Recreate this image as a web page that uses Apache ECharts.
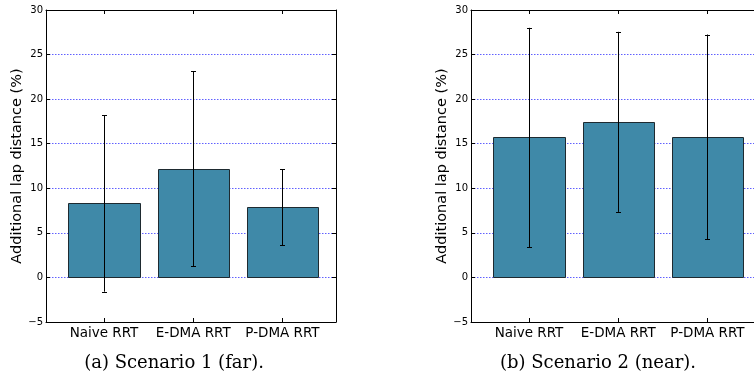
<!DOCTYPE html>
<html>
<head>
<meta charset="utf-8">
<script src="https://cdn.jsdelivr.net/npm/echarts@6/dist/echarts.min.js"></script>
<style>
html,body{margin:0;padding:0;background:#fff;}
#chart{width:754px;height:377px;}
</style>
</head>
<body>
<div id="chart"></div>
<script>
const categories = ['Naive RRT', 'E-DMA RRT', 'P-DMA RRT'];
const scenario1Mean = [8.3, 12.2, 7.9];
const scenario1Low = [-1.6, 1.25, 3.6];
const scenario1High = [18.2, 23.15, 12.15];
const scenario2Mean = [15.7, 17.45, 15.75];
const scenario2Low = [3.4, 7.35, 4.3];
const scenario2High = [28.0, 27.55, 27.25];
const yMin = -5, yMax = 30, yStep = 5;
const yAxisTitle = 'Additional lap distance (%)';
const captions = ['(a) Scenario 1 (far).', '(b) Scenario 2 (near).'];

const chart = echarts.init(document.getElementById('chart'), null, {renderer: 'canvas'});
const FONT = 'DejaVu Sans';
const catPos = categories.map((c, i) => i);

function fmtY(v) { return v < 0 ? '\u2212' + (-v) : String(v); }

const grids = [
  {left: 46, width: 290, top: 10, height: 312, outerBoundsMode: 'none', containLabel: false},
  {left: 471, width: 290, top: 10, height: 312, outerBoundsMode: 'none', containLabel: false}
];

const xAxes = [], yAxes = [], series = [];
grids.forEach((g, gi) => {
  xAxes.push({
    type: 'value', gridIndex: gi, min: -0.65, max: 2.6, position: 'bottom',
    axisLine: {show: true, onZero: false, lineStyle: {color: '#000', width: 1}},
    axisTick: {show: true, inside: true, length: 4, customValues: catPos, lineStyle: {color: '#000'}},
    axisLabel: {show: true, customValues: catPos, margin: 4, fontFamily: FONT, fontSize: 13.5, color: '#000',
      formatter: v => categories[Math.round(v)]},
    splitLine: {show: false}
  });
  xAxes.push({
    type: 'value', gridIndex: gi, min: -0.65, max: 2.6, position: 'top',
    axisLine: {show: true, onZero: false, lineStyle: {color: '#000', width: 1}},
    axisTick: {show: true, inside: true, length: 4, customValues: catPos, lineStyle: {color: '#000'}},
    axisLabel: {show: false},
    splitLine: {show: false}
  });
  yAxes.push({
    type: 'value', gridIndex: gi, min: yMin, max: yMax, interval: yStep, position: 'left',
    axisLine: {show: true, onZero: false, lineStyle: {color: '#000', width: 1}},
    axisTick: {show: true, inside: true, length: 4, lineStyle: {color: '#000'}},
    axisLabel: {show: true, margin: 3, fontFamily: FONT, fontSize: 10, color: '#000', formatter: fmtY},
    splitLine: {show: true, lineStyle: {color: '#6060ff', width: 1, type: [1.5, 1.5]}}
  });
  yAxes.push({
    type: 'value', gridIndex: gi, min: yMin, max: yMax, interval: yStep, position: 'right',
    axisLine: {show: true, onZero: false, lineStyle: {color: '#000', width: 1}},
    axisTick: {show: true, inside: true, length: 4, lineStyle: {color: '#000'}},
    axisLabel: {show: false},
    splitLine: {show: false}
  });
});

const scen = [
  {mean: scenario1Mean, low: scenario1Low, high: scenario1High},
  {mean: scenario2Mean, low: scenario2Low, high: scenario2High}
];

scen.forEach((s, gi) => {
  series.push({
    type: 'custom', xAxisIndex: gi * 2, yAxisIndex: gi * 2, z: 3,
    data: s.mean.map((m, i) => [catPos[i], m]),
    renderItem: (params, api) => {
      const x = api.value(0), y = api.value(1);
      const p0 = api.coord([x - 0.4, y]);
      const p1 = api.coord([x + 0.4, 0]);
      const x0 = Math.round(p0[0]) + 0.5, y0 = Math.round(p0[1]) + 0.5;
      const x1 = Math.round(p1[0]) + 0.5, y1 = Math.round(p1[1]) + 0.5;
      return {
        type: 'rect',
        shape: {x: x0, y: y0, width: x1 - x0, height: y1 - y0},
        style: {fill: '#3f89a8', stroke: '#1e2a30', lineWidth: 1}
      };
    }
  });
  series.push({
    type: 'custom', xAxisIndex: gi * 2, yAxisIndex: gi * 2, z: 4,
    data: s.mean.map((m, i) => [catPos[i], s.low[i], s.high[i]]),
    renderItem: (params, api) => {
      const x = api.value(0);
      const pl = api.coord([x, api.value(1)]);
      const ph = api.coord([x, api.value(2)]);
      const cx = Math.round(pl[0]) + 0.5;
      const st = {stroke: '#000', lineWidth: 1};
      return {
        type: 'group',
        children: [
          {type: 'line', shape: {x1: cx, y1: ph[1], x2: cx, y2: pl[1]}, style: st},
          {type: 'line', shape: {x1: cx - 2.5, y1: Math.round(ph[1]) + 0.5, x2: cx + 2.5, y2: Math.round(ph[1]) + 0.5}, style: st},
          {type: 'line', shape: {x1: cx - 2.5, y1: Math.round(pl[1]) + 0.5, x2: cx + 2.5, y2: Math.round(pl[1]) + 0.5}, style: st}
        ]
      };
    }
  });
});

chart.setOption({
  animation: false,
  backgroundColor: '#fff',
  grid: grids,
  xAxis: xAxes,
  yAxis: yAxes,
  series: series,
  graphic: [
    {type: 'text', x: 17, y: 166, rotation: Math.PI / 2,
      style: {text: yAxisTitle, font: '14.5px "DejaVu Sans"', fill: '#000', align: 'center', verticalAlign: 'middle'}},
    {type: 'text', x: 442, y: 166, rotation: Math.PI / 2,
      style: {text: yAxisTitle, font: '14.5px "DejaVu Sans"', fill: '#000', align: 'center', verticalAlign: 'middle'}},
    {type: 'text', x: 174, y: 363,
      style: {text: captions[0], font: '18px "DejaVu Serif"', fill: '#000', align: 'center', verticalAlign: 'middle'}},
    {type: 'text', x: 598, y: 363,
      style: {text: captions[1], font: '18px "DejaVu Serif"', fill: '#000', align: 'center', verticalAlign: 'middle'}}
  ]
});
</script>
</body>
</html>
